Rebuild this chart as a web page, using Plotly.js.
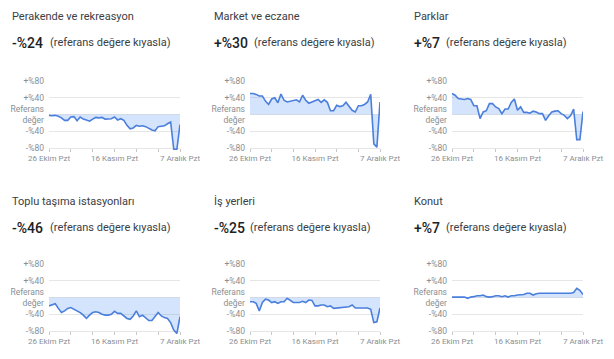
<!DOCTYPE html>
<html>
<head>
<meta charset="utf-8">
<script src="https://cdn.plot.ly/plotly-3.0.1.min.js"></script>
<style>html,body{margin:0;padding:0;background:#fff;}#chart{width:614px;height:359px;}</style>
</head>
<body>
<div id="chart"></div>
<script>
const dates = ["2020-10-26","2020-10-27","2020-10-28","2020-10-29","2020-10-30","2020-10-31","2020-11-01",
"2020-11-02","2020-11-03","2020-11-04","2020-11-05","2020-11-06","2020-11-07","2020-11-08",
"2020-11-09","2020-11-10","2020-11-11","2020-11-12","2020-11-13","2020-11-14","2020-11-15",
"2020-11-16","2020-11-17","2020-11-18","2020-11-19","2020-11-20","2020-11-21","2020-11-22",
"2020-11-23","2020-11-24","2020-11-25","2020-11-26","2020-11-27","2020-11-28","2020-11-29",
"2020-11-30","2020-12-01","2020-12-02","2020-12-03","2020-12-04","2020-12-05","2020-12-06","2020-12-07"];

const titles = ["Perakende ve rekreasyon","Market ve eczane","Parklar","Toplu taşıma istasyonları","İş yerleri","Konut"];
const headline = ["-%24","+%30","+%7","-%46","-%25","+%7"];
const subText = "(referans değere kıyasla)";

const retail = [-2,-3,-2,-4,-8,-14,-14,-6,-5,-15,-6,-11,-13,-16,-11,-7,-8,-7,-11,-11,-10,-6,-13,-10,-14,-26,-34,-32,-26,-28,-27,-29,-34,-37,-39,-29,-28,-27,-22,-18,-83,-83,-24];
const grocery = [50,50,48,44,44,32,24,37,40,28,49,34,30,32,34,35,30,46,34,27,30,33,36,29,35,29,9,9,22,19,21,29,18,10,6,21,21,24,30,48,-70,-78,30];
const parks = [50,46,38,37,36,38,36,21,21,-10,6,9,26,26,18,14,2,13,13,29,37,10,18,5,5,3,8,6,2,2,-14,-3,6,8,9,2,-2,-10,-3,13,-60,-60,7];
const transit = [-20,-17,-15,-26,-36,-32,-26,-24,-28,-34,-36,-42,-50,-42,-36,-34,-36,-40,-42,-42,-40,-33,-38,-38,-44,-50,-52,-44,-32,-46,-42,-48,-55,-55,-44,-36,-44,-48,-50,-60,-78,-86,-46];
const workplaces = [-10,-10,-14,-32,-12,-4,-6,-12,-10,-14,-10,-10,-2,-7,-12,-12,-12,-9,-12,-6,-7,-20,-20,-18,-18,-22,-20,-26,-25,-24,-23,-23,-22,-18,-25,-25,-25,-25,-25,-28,-60,-58,-25];
const residential = [1,1,2,2,1,-2,1,2,4,4,6,2,1,2,4,4,2,4,1,4,4,6,6,7,10,10,6,9,10,10,10,10,9,9,10,10,10,10,10,12,22,17,7];

const series = [retail, grocery, parks, transit, workplaces, residential];

const yTickVals = [-80,-40,0,40,80];
const yTickText = ["-%80","-%40","Referans<br>değer","+%40","+%80"];
const xTickVals = ["2020-10-26","2020-11-02","2020-11-09","2020-11-16","2020-11-23","2020-11-30","2020-12-07"];
const xTickText = ["26 Ekim Pzt","","","16 Kasım Pzt","","","7 Aralık Pzt"];

const W = 614, H = 359;
const colPx = [[49,180],[250,380],[452,583]];
const rowPx = [[81,148],[264,331]]; // +80 px, -80 px
const titleX = [10,212,412];
const subX = [[48,48],[252,248],[444,444]];
const titleY = [17,202];
const valueY = [43,228];
const yMin = -90, yMax = 82;

const data = [], layout = {
  width: W, height: H, margin:{l:0,r:0,t:0,b:0},
  paper_bgcolor:'#fff', plot_bgcolor:'#fff', showlegend:false,
  font:{family:'Roboto, Arial, sans-serif', color:'#3c4043'},
  annotations: []
};

for (let i=0;i<6;i++){
  const r = Math.floor(i/3), c = i%3;
  const k = i+1, xs = k===1?'':k, ys = k===1?'':k;
  const [p80, m80] = rowPx[r];
  const ppu = (m80-p80)/160;
  const topPx = p80 - (yMax-80)*ppu;
  const botPx = m80 + (-80-yMin)*ppu;
  data.push({
    type:'scatter', mode:'lines', x:dates, y:series[i],
    xaxis:'x'+xs, yaxis:'y'+ys,
    line:{color:'#4a7fdc', width:1.6, shape:'linear'},
    fill:'tozeroy', fillcolor:'rgba(66,133,244,0.22)', hoverinfo:'skip'
  });
  layout['xaxis'+xs] = {
    domain:[colPx[c][0]/W, colPx[c][1]/W],
    anchor:'free', position:(H-m80)/H,
    type:'date', range:[dates[0], dates[dates.length-1]],
    tickvals:xTickVals, ticktext:xTickText,
    ticks:'outside', ticklen:3, tickcolor:'#c8c8c8', tickwidth:1,
    ticklabelstandoff:-1,
    showgrid:false, showline:false, zeroline:false,
    tickfont:{size:8, color:'#8a8f94'}, fixedrange:true
  };
  layout['yaxis'+ys] = {
    domain:[(H-botPx)/H, (H-topPx)/H],
    anchor:'x'+xs, range:[yMin,yMax],
    tickvals:yTickVals, ticktext:yTickText,
    showgrid:true, gridcolor:'#e6e6e6', gridwidth:1,
    zeroline:false, showline:false, ticks:'',
    ticklabelstandoff:4,
    tickfont:{size:8.5, color:'#8a8f94'}, fixedrange:true
  };
  layout.annotations.push({
    xref:'paper', yref:'paper', x:titleX[c]/W, y:(H-titleY[r])/H,
    xanchor:'left', yanchor:'middle', showarrow:false,
    text:titles[i], font:{size:11, color:'#3c4043'}
  });
  layout.annotations.push({
    xref:'paper', yref:'paper', x:titleX[c]/W, y:(H-valueY[r])/H,
    xanchor:'left', yanchor:'middle', showarrow:false,
    text:headline[i], font:{size:14, weight:500, color:'#202124'}
  });
  layout.annotations.push({
    xref:'paper', yref:'paper', x:subX[c][r]/W, y:(H-valueY[r])/H,
    xanchor:'left', yanchor:'middle', showarrow:false,
    text:subText, font:{size:11, color:'#3c4043'}
  });
}

Plotly.newPlot('chart', data, layout, {displayModeBar:false, staticPlot:true});
</script>
</body>
</html>
